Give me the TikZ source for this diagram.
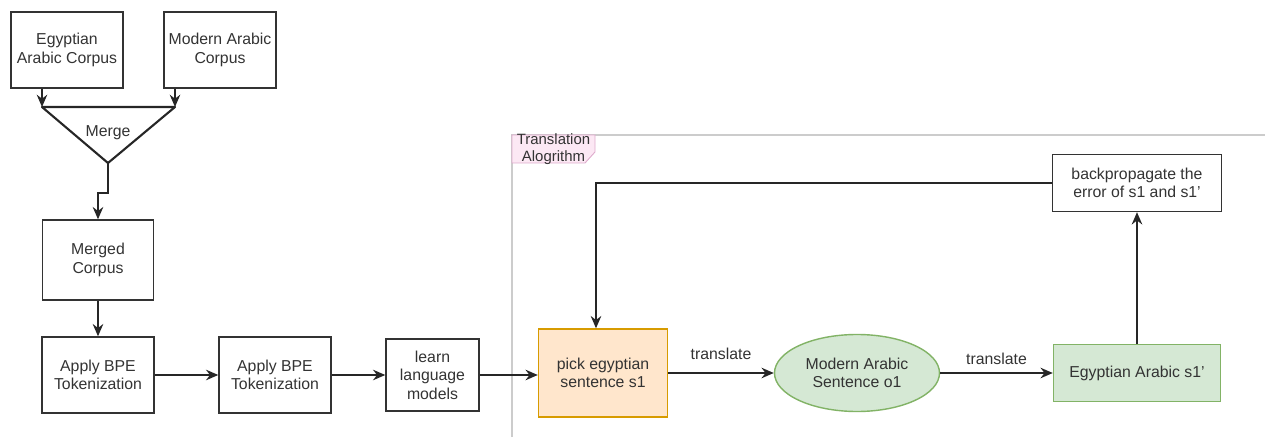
\documentclass[tikz,border=0pt]{standalone}
\usepackage{fontspec}
\setmainfont{Liberation Sans}
\definecolor{dgray}{RGB}{51,51,51}
\definecolor{framegray}{RGB}{204,204,204}
\definecolor{pickfill}{RGB}{255,230,204}
\definecolor{pickline}{RGB}{215,155,0}
\definecolor{sentfill}{RGB}{213,232,212}
\definecolor{sentline}{RGB}{130,179,102}
\definecolor{tagfill}{RGB}{252,232,244}
\definecolor{tagline}{RGB}{222,170,204}
\usetikzlibrary{arrows.meta,positioning,shapes.geometric,calc}

\begin{document}
\begin{tikzpicture}[
  font=\fontsize{9}{10.5}\selectfont,
  text=dgray,
  line width=0.8pt,
  stepbox/.style={draw=black!80, align=center, inner sep=2pt},
  arr/.style={draw=black!85, -{Stealth[length=7pt,width=6pt]}},
  lbl/.style={font=\fontsize{9}{10.5}\selectfont, text=dgray}
]
  \useasboundingbox (0,0) rectangle (25.3,8.74);

  % translation frame
  \draw[framegray] (10.24,0) -- (10.24,6.04) -- (25.3,6.04);
  \draw[tagline, fill=tagfill, line width=0.5pt] (10.24,6.04) -- (11.9,6.04) -- (11.9,5.7) -- (11.7,5.48) -- (10.24,5.48) -- cycle;
  \node[align=center, font=\fontsize{8.5}{9.5}\selectfont] (tag) at (11.07,5.76) {Translation\\Alogrithm};

  % corpora and merge
  \node[stepbox, minimum width=2.24cm, minimum height=1.52cm] (egy) at (1.34,7.74) {Egyptian\\Arabic Corpus};
  \node[stepbox, minimum width=2.24cm, minimum height=1.52cm] (mod) at (4.40,7.74) {Modern Arabic\\Corpus};
  \coordinate (tl) at (0.84,6.60);
  \coordinate (tr) at (3.50,6.60);
  \coordinate (apex) at (2.16,5.48);
  \draw[black!85, line width=1.2pt, line join=round] (tl) -- (tr) -- (apex) -- cycle;
  \node (merge) at (2.16,6.08) {Merge};
  \draw[arr] (egy.south -| tl) -- (tl);
  \draw[arr] (mod.south -| tr) -- (tr);

  \node[stepbox, minimum width=2.22cm, minimum height=1.60cm] (merged) at (1.96,3.54) {Merged\\Corpus};
  \draw[arr] (apex) -- ++(0,-0.6) -| (merged.north);

  % preprocessing
  \node[stepbox, minimum width=2.24cm, minimum height=1.52cm] (bpe1) at (1.96,1.24) {Apply BPE\\Tokenization};
  \node[stepbox, minimum width=2.24cm, minimum height=1.52cm] (bpe2) at (5.50,1.24) {Apply BPE\\Tokenization};
  \node[stepbox, minimum width=1.86cm, minimum height=1.44cm] (learn) at (8.65,1.24) {learn\\language\\models};
  \draw[arr] (merged) -- (bpe1);
  \draw[arr] (bpe1) -- (bpe2);
  \draw[arr] (bpe2) -- (learn);

  % translation loop
  \node[stepbox, draw=pickline, fill=pickfill, minimum width=2.58cm, minimum height=1.76cm] (pick) at (12.06,1.28) {pick egyptian\\sentence s1};
  \node[ellipse, draw=sentline, fill=sentfill, align=center, minimum width=3.3cm, minimum height=1.54cm] (mod1) at (17.14,1.28) {Modern Arabic\\Sentence o1};
  \node[stepbox, draw=sentline, fill=sentfill, minimum width=3.34cm, minimum height=1.14cm] (egy1) at (22.74,1.28) {Egyptian Arabic s1’};
  \node[stepbox, minimum width=3.38cm, minimum height=1.14cm] (back) at (22.74,5.08) {backpropagate the\\error of s1 and s1’};

  \draw[arr] (learn.east) -- (learn.east -| pick.west);
  \draw[arr] (pick) -- node[lbl, above=4pt] {translate} (mod1);
  \draw[arr] (mod1) -- node[lbl, above=1pt] {translate} (egy1);
  \draw[arr] (egy1) -- (back);
  \draw[arr] (back.west) -| ([xshift=-0.14cm]pick.north);
\end{tikzpicture}
\end{document}
